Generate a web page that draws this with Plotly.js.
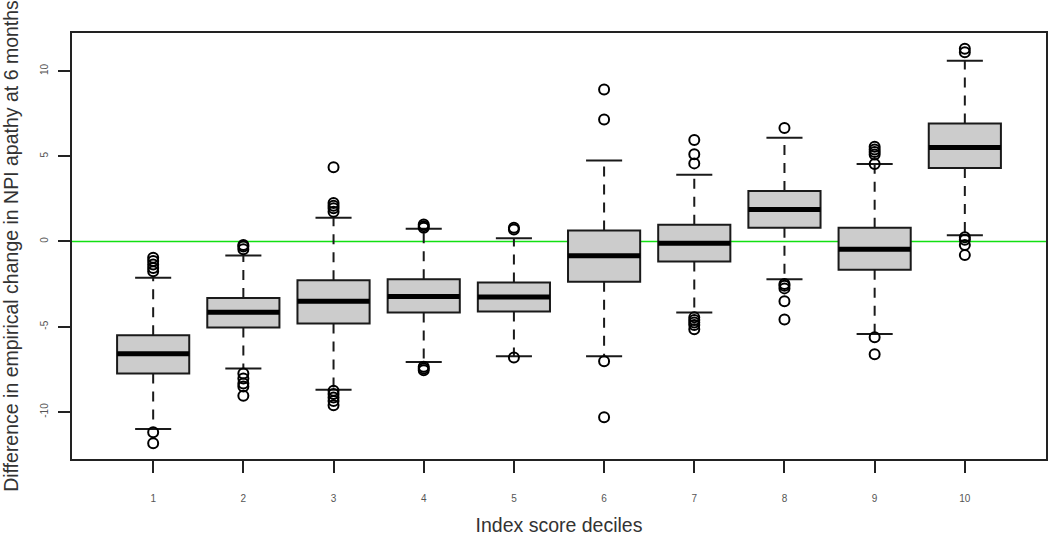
<!DOCTYPE html>
<html>
<head>
<meta charset="utf-8">
<script src="https://cdn.plot.ly/plotly-3.0.1.min.js"></script>
<style>html,body{margin:0;padding:0;background:#fff;}#chart{width:1050px;height:536px;}</style>
</head>
<body>
<div id="chart"></div>
<script>
// Data
const deciles = [1, 2, 3, 4, 5, 6, 7, 8, 9, 10];
const tickLabels = ["1", "2", "3", "4", "5", "6", "7", "8", "9", "10"];
const q1 = [-7.74, -5.05, -4.81, -4.17, -4.11, -2.36, -1.17, 0.80, -1.66, 4.31];
const medians = [-6.59, -4.15, -3.51, -3.22, -3.26, -0.83, -0.10, 1.87, -0.45, 5.51];
const q3 = [-5.50, -3.31, -2.28, -2.22, -2.40, 0.64, 0.98, 2.96, 0.80, 6.92];
const lowerWhisker = [-10.99, -7.45, -8.70, -7.06, -6.73, -6.73, -4.17, -2.22, -5.42, 0.37];
const upperWhisker = [-2.12, -0.82, 1.39, 0.74, 0.19, 4.75, 3.92, 6.08, 4.54, 10.60];
const outliers = [
  [-0.95, -1.15, -1.35, -1.55, -1.75, -11.19, -11.83],
  [-0.20, -0.30, -0.45, -7.74, -8.03, -8.33, -8.50, -9.05],
  [4.35, 2.25, 2.10, 1.95, 1.75, -8.75, -8.95, -9.15, -9.35, -9.60],
  [1.00, 0.90, 0.80, -7.35, -7.45, -7.55],
  [0.80, 0.70, -6.80],
  [8.91, 7.15, -7.02, -10.31],
  [5.95, 5.11, 4.58, -4.45, -4.60, -4.75, -4.90, -5.15],
  [6.65, -2.50, -2.60, -2.75, -3.51, -4.58],
  [5.55, 5.40, 5.25, 5.10, 4.55, -5.61, -6.61],
  [11.30, 11.10, 0.25, 0.10, -0.20, -0.80]
];
const yTicks = [-10, -5, 0, 5, 10];
const xTitle = "Index score deciles";
const yTitle = "Difference in empirical change in NPI apathy at 6 months";

// Geometry helpers (R boxplot defaults)
const boxWidth = 0.8;
const stapleHalf = 0.2;

const medX = [], medY = [], whiskX = [], whiskY = [], stapX = [], stapY = [], outX = [], outY = [];
deciles.forEach((d, i) => {
  const hw = boxWidth / 2;
  medX.push(d - hw, d + hw, null); medY.push(medians[i], medians[i], null);
  whiskX.push(d, d, null, d, d, null);
  whiskY.push(q3[i], upperWhisker[i], null, q1[i], lowerWhisker[i], null);
  stapX.push(d - stapleHalf, d + stapleHalf, null, d - stapleHalf, d + stapleHalf, null);
  stapY.push(upperWhisker[i], upperWhisker[i], null, lowerWhisker[i], lowerWhisker[i], null);
  outliers[i].forEach(v => { outX.push(d); outY.push(v); });
});

// Axis ranges like R (4% extension)
const allVals = [].concat(lowerWhisker, upperWhisker, ...outliers);
const yMin = Math.min(...allVals), yMax = Math.max(...allVals);
const ext = (yMax - yMin) * 0.04;
const xLo = 0.5, xHi = deciles.length + 0.5, xExt = (xHi - xLo) * 0.04;

const traces = [
  {
    type: 'box', x: deciles, q1: q1, median: medians, q3: q3,
    lowerfence: q1, upperfence: q3, width: boxWidth, whiskerwidth: 0,
    fillcolor: '#cccccc', line: {color: '#1a1a1a', width: 2},
    boxpoints: false, hoverinfo: 'skip', showlegend: false
  },
  {
    type: 'scatter', mode: 'lines', x: whiskX, y: whiskY,
    line: {color: '#1a1a1a', width: 2, dash: '10px,8px'},
    hoverinfo: 'skip', showlegend: false
  },
  {
    type: 'scatter', mode: 'lines', x: stapX, y: stapY,
    line: {color: '#1a1a1a', width: 2},
    hoverinfo: 'skip', showlegend: false
  },
  {
    type: 'scatter', mode: 'lines', x: medX, y: medY,
    line: {color: '#000000', width: 5},
    hoverinfo: 'skip', showlegend: false
  },
  {
    type: 'scatter', mode: 'markers', x: outX, y: outY,
    marker: {symbol: 'circle-open', size: 10, color: '#000000', line: {width: 2, color: '#000'}},
    hoverinfo: 'skip', showlegend: false
  }
];

const layout = {
  width: 1050, height: 536,
  margin: {l: 72, r: 4, t: 33, b: 77},
  paper_bgcolor: '#ffffff', plot_bgcolor: '#ffffff',
  font: {family: 'Liberation Sans, Arial, sans-serif', color: '#333'},
  showlegend: false,
  xaxis: {
    range: [xLo - xExt, xHi + xExt], tickmode: 'array', tickvals: deciles, ticktext: tickLabels,
    showgrid: false, zeroline: false, showline: true, mirror: true,
    linecolor: '#222', linewidth: 2, ticks: 'outside', ticklen: 12, tickwidth: 2, tickcolor: '#222',
    tickfont: {size: 10, color: '#555'}, ticklabelstandoff: 17,
    title: {text: xTitle, font: {size: 19.5, color: '#333'}, standoff: 15}
  },
  yaxis: {
    range: [yMin - ext, yMax + ext], tickmode: 'array', tickvals: yTicks, ticktext: yTicks.map(String),
    showgrid: false, zeroline: false, showline: true, mirror: true,
    linecolor: '#222', linewidth: 2, ticks: 'outside', ticklen: 12, tickwidth: 2, tickcolor: '#222',
    tickangle: -90, tickfont: {size: 10, color: '#555'}, ticklabelstandoff: 6,
    title: {text: yTitle, font: {size: 19.5, color: '#333'}, standoff: 16}
  },
  shapes: [{
    type: 'line', xref: 'paper', x0: 0, x1: 1, yref: 'y', y0: 0, y1: 0,
    line: {color: '#11e011', width: 1.5}, layer: 'below'
  }]
};

Plotly.newPlot('chart', traces, layout, {displayModeBar: false, staticPlot: true});
</script>
</body>
</html>
